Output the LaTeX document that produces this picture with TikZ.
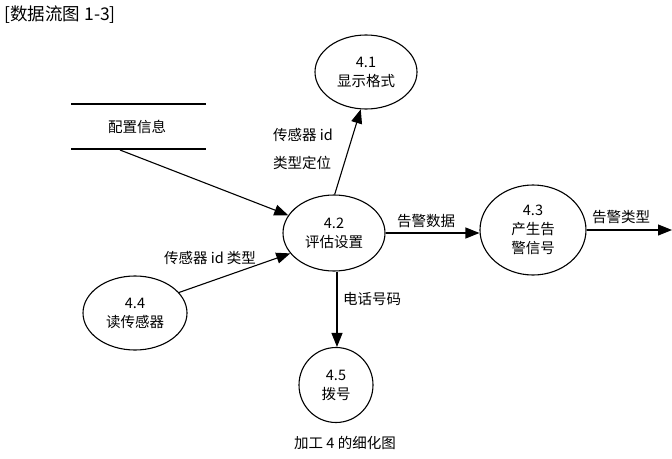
\documentclass[tikz,border=0pt]{standalone}
\usepackage{fontspec}
\setmainfont{Noto Sans CJK SC}
\usetikzlibrary{arrows.meta,shapes.geometric}
\begin{document}
\begin{tikzpicture}[x=1pt,y=-1pt,
  proc/.style={draw,line width=1.1pt,ellipse,inner sep=0pt,align=center,font=\fontsize{14.5}{19}\selectfont},
  flow/.style={line width=1.1pt,-{Triangle[length=14pt,width=11pt]}},
  lbl/.style={font=\fontsize{14.5}{18}\selectfont,inner sep=1pt}]
\useasboundingbox (0,0) rectangle (672,458);
\node[font=\fontsize{17.5}{20}\selectfont,anchor=west] (title) at (1,15) {[数据流图 1-3]};
% data store
\coordinate (s1) at (71,104); \coordinate (s2) at (206,104);
\coordinate (s3) at (71,149); \coordinate (s4) at (206,149);
\draw[line width=1.1pt] (s1) -- (s2) (s3) -- (s4);
\node[lbl] (store) at (137,127) {配置信息};
\coordinate (storeout) at (120,150);
% processes
\node[proc,minimum width=102pt,minimum height=74pt] (p41) at (366,72) {4.1\\显示格式};
\node[proc,minimum width=102pt,minimum height=76pt] (p42) at (334,233) {4.2\\评估设置};
\node[proc,minimum width=106pt,minimum height=90pt] (p43) at (533,230) {4.3\\产生告\\警信号};
\node[proc,minimum width=104pt,minimum height=74pt] (p44) at (135,313) {4.4\\读传感器};
\node[proc,minimum width=74pt,minimum height=75pt] (p45) at (336,385) {4.5\\拨号};
\coordinate (out) at (672,230);
% flows
\draw[flow] (storeout) -- (p42);
\draw[flow] (p42.89) -- (p41.262);
\draw[flow] (p42.east) -- (p43.west |- p42.east);
\draw[flow] (p43.east |- out) -- (out);
\draw[flow] (p44.25) -- (p42.205);
\draw[flow] (p42.south -| 337,0) -- (p45.north -| 337,0);
% labels
\node[lbl,anchor=west] (l1) at (272,135) {传感器 id};
\node[lbl,anchor=west] (l2) at (272,163) {类型定位};
\node[lbl] (l3) at (426,221) {告警数据};
\node[lbl] (l4) at (621,217) {告警类型};
\node[lbl] (l5) at (210,258) {传感器 id 类型};
\node[lbl] (l6) at (372,299) {电话号码};
\node[lbl] (cap) at (345,443) {加工 4 的细化图};
\end{tikzpicture}
\end{document}
